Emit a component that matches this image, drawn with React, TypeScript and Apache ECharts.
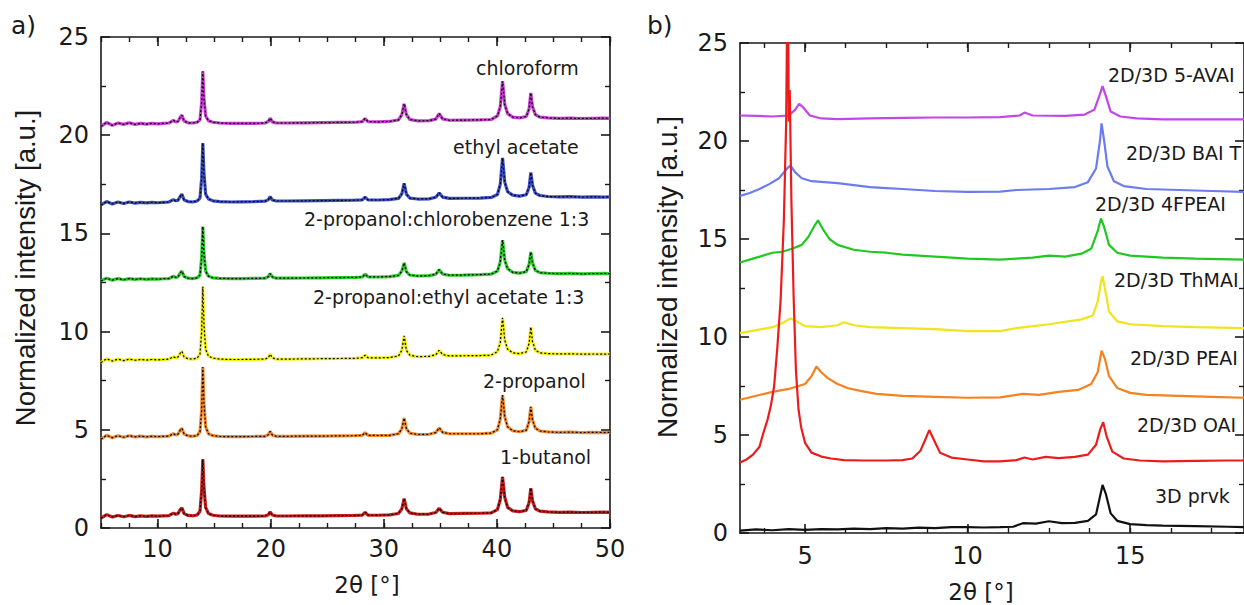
import React, { useEffect, useRef } from "react";
import * as echarts from "echarts";

// ---------- Panel a data (shared 2θ grid) ----------
const xA = [5, 5.5, 6, 6.5, 7, 7.5, 8, 8.5, 9, 9.5, 10, 10.5, 11, 11.4, 11.6, 11.8, 12.0, 12.15, 12.35, 12.7, 13.1, 13.5, 13.75, 13.9, 14.0, 14.1, 14.25, 14.5, 14.9, 15.5, 16.5, 17.5, 18.5, 19.5, 19.8, 19.95, 20.15, 20.5, 21.5, 23, 24.5, 26, 27.5, 28.1, 28.35, 28.6, 29.5, 30.5, 31.3, 31.6, 31.8, 32.0, 32.3, 33, 34, 34.6, 34.9, 35.2, 35.8, 37, 38.5, 39.5, 40.05, 40.3, 40.5, 40.7, 40.95, 41.4, 42.0, 42.6, 42.85, 43.0, 43.15, 43.4, 43.8, 44.5, 45.5, 46.5, 47.5, 48.5, 49.5, 50];

const chloroform = [20.45, 20.65, 20.5, 20.62, 20.55, 20.63, 20.55, 20.6, 20.56, 20.6, 20.58, 20.6, 20.62, 20.75, 20.68, 20.7, 20.9, 21.02, 20.72, 20.63, 20.62, 20.66, 20.78, 21.65, 23.25, 21.9, 20.98, 20.74, 20.66, 20.62, 20.6, 20.6, 20.6, 20.62, 20.7, 20.87, 20.68, 20.62, 20.62, 20.63, 20.64, 20.65, 20.66, 20.69, 20.85, 20.69, 20.68, 20.7, 20.78, 21.05, 21.6, 21.05, 20.8, 20.73, 20.74, 20.82, 21.1, 20.83, 20.76, 20.77, 20.78, 20.8, 20.98, 21.45, 22.75, 21.55, 21.1, 20.92, 20.88, 20.95, 21.35, 22.15, 21.45, 21.05, 20.92, 20.88, 20.86, 20.87, 20.85, 20.86, 20.87, 20.86];

const ethylAcetate = [16.45, 16.62, 16.5, 16.6, 16.52, 16.6, 16.54, 16.58, 16.55, 16.58, 16.56, 16.58, 16.6, 16.72, 16.66, 16.68, 16.88, 17.0, 16.7, 16.62, 16.6, 16.65, 16.8, 17.8, 19.6, 18.1, 17.0, 16.75, 16.66, 16.62, 16.6, 16.61, 16.62, 16.64, 16.72, 16.87, 16.7, 16.65, 16.65, 16.66, 16.67, 16.68, 16.69, 16.71, 16.84, 16.71, 16.7, 16.72, 16.78, 17.02, 17.55, 17.0, 16.8, 16.75, 16.76, 16.84, 17.06, 16.85, 16.78, 16.79, 16.8, 16.83, 16.98, 17.5, 18.84, 17.6, 17.12, 16.95, 16.9, 16.97, 17.35, 18.1, 17.45, 17.05, 16.93, 16.88, 16.86, 16.87, 16.85, 16.86, 16.85, 16.86];

const chlorobenzene13 = [12.58, 12.72, 12.62, 12.7, 12.64, 12.7, 12.66, 12.69, 12.66, 12.68, 12.67, 12.69, 12.7, 12.82, 12.76, 12.78, 12.98, 13.08, 12.8, 12.72, 12.7, 12.74, 12.88, 13.75, 15.35, 14.0, 13.08, 12.82, 12.74, 12.71, 12.7, 12.7, 12.71, 12.72, 12.8, 12.95, 12.78, 12.72, 12.72, 12.73, 12.74, 12.75, 12.76, 12.78, 12.92, 12.79, 12.78, 12.8, 12.86, 13.08, 13.5, 13.05, 12.88, 12.83, 12.85, 12.92, 13.15, 12.93, 12.87, 12.88, 12.9, 12.93, 13.08, 13.55, 14.66, 13.62, 13.2, 13.02, 12.98, 13.05, 13.42, 14.05, 13.5, 13.12, 13.0, 12.97, 12.95, 12.96, 12.94, 12.95, 12.96, 12.95];

const ethylAcetate13 = [8.42, 8.62, 8.5, 8.6, 8.52, 8.6, 8.54, 8.58, 8.55, 8.58, 8.56, 8.58, 8.6, 8.72, 8.66, 8.7, 8.9, 9.0, 8.7, 8.62, 8.6, 8.65, 8.85, 10.0, 12.3, 10.4, 9.1, 8.75, 8.65, 8.6, 8.58, 8.58, 8.59, 8.6, 8.68, 8.85, 8.66, 8.6, 8.6, 8.61, 8.62, 8.63, 8.64, 8.67, 8.8, 8.67, 8.66, 8.68, 8.76, 9.05, 9.78, 9.05, 8.8, 8.72, 8.74, 8.82, 9.05, 8.83, 8.76, 8.77, 8.78, 8.8, 8.98, 9.45, 10.7, 9.55, 9.1, 8.92, 8.88, 8.96, 9.4, 10.23, 9.5, 9.05, 8.92, 8.88, 8.86, 8.87, 8.85, 8.86, 8.85, 8.86];

const propanol2 = [4.52, 4.72, 4.6, 4.7, 4.62, 4.7, 4.64, 4.68, 4.64, 4.67, 4.65, 4.67, 4.68, 4.8, 4.74, 4.77, 4.98, 5.08, 4.78, 4.69, 4.67, 4.71, 4.9, 6.0, 8.2, 6.4, 5.15, 4.8, 4.7, 4.66, 4.65, 4.65, 4.66, 4.67, 4.75, 4.92, 4.73, 4.67, 4.67, 4.68, 4.68, 4.69, 4.7, 4.72, 4.85, 4.72, 4.71, 4.72, 4.8, 5.05, 5.6, 5.05, 4.83, 4.76, 4.77, 4.86, 5.1, 4.87, 4.8, 4.8, 4.8, 4.83, 5.0, 5.55, 6.77, 5.65, 5.15, 4.95, 4.9, 4.98, 5.42, 6.17, 5.5, 5.08, 4.94, 4.89, 4.87, 4.88, 4.86, 4.87, 4.86, 4.87];

const butanol1 = [0.5, 0.68, 0.56, 0.64, 0.57, 0.64, 0.58, 0.62, 0.59, 0.62, 0.6, 0.62, 0.63, 0.76, 0.7, 0.73, 0.93, 1.03, 0.73, 0.64, 0.62, 0.66, 0.85, 1.9, 3.5, 2.1, 1.05, 0.74, 0.65, 0.61, 0.6, 0.6, 0.6, 0.61, 0.68, 0.82, 0.66, 0.61, 0.61, 0.62, 0.62, 0.63, 0.64, 0.66, 0.8, 0.66, 0.65, 0.67, 0.74, 0.98, 1.5, 0.98, 0.77, 0.7, 0.71, 0.79, 1.0, 0.8, 0.73, 0.74, 0.75, 0.77, 0.94, 1.45, 2.6, 1.55, 1.05, 0.87, 0.83, 0.9, 1.3, 2.03, 1.38, 0.98, 0.86, 0.82, 0.8, 0.81, 0.79, 0.8, 0.81, 0.8];

const namesA = ["1-butanol", "2-propanol", "2-propanol:ethyl acetate 1:3", "2-propanol:chlorobenzene 1:3", "ethyl acetate", "chloroform"];
const colorsA = ["#c41e1e", "#f08a30", "#f2ee22", "#2cc82c", "#3c4ec4", "#c43ece"];

// ---------- Panel b data ----------
const prvk3D = [[3, 0.12], [3.5, 0.18], [4, 0.14], [4.5, 0.2], [5, 0.16], [5.5, 0.2], [6, 0.18], [6.5, 0.22], [7, 0.2], [7.5, 0.25], [8, 0.22], [8.5, 0.27], [9, 0.25], [9.5, 0.3], [10, 0.3], [10.5, 0.28], [11, 0.3], [11.4, 0.32], [11.7, 0.5], [12.1, 0.48], [12.5, 0.6], [12.9, 0.5], [13.3, 0.52], [13.7, 0.62], [13.95, 0.95], [14.05, 1.7], [14.15, 2.45], [14.25, 2.0], [14.4, 1.0], [14.6, 0.62], [15, 0.45], [15.5, 0.4], [16, 0.38], [17, 0.35], [18, 0.32], [18.5, 0.3]];

const oai = [[3, 3.6], [3.2, 3.75], [3.4, 4.0], [3.6, 4.4], [3.7, 5.0], [3.85, 5.8], [3.95, 6.5], [4.05, 7.5], [4.15, 9.5], [4.25, 11.9], [4.35, 16], [4.42, 21], [4.47, 30], [4.5, 21], [4.53, 22.6], [4.58, 17], [4.65, 12], [4.72, 8.3], [4.8, 6.3], [4.88, 5.4], [5.0, 4.6], [5.2, 4.1], [5.5, 3.9], [5.8, 3.8], [6.2, 3.72], [6.8, 3.7], [7.5, 3.7], [8, 3.72], [8.3, 3.8], [8.55, 4.2], [8.72, 4.85], [8.82, 5.25], [8.95, 4.8], [9.15, 4.1], [9.5, 3.85], [10, 3.75], [10.5, 3.65], [11, 3.65], [11.5, 3.72], [11.75, 3.85], [12, 3.75], [12.4, 3.88], [12.8, 3.82], [13.3, 3.88], [13.7, 4.0], [13.95, 4.5], [14.08, 5.3], [14.17, 5.65], [14.28, 4.9], [14.45, 4.15], [14.8, 3.8], [15.3, 3.7], [16, 3.65], [17, 3.68], [18, 3.7], [18.5, 3.7]];

const peai = [[3, 6.8], [3.5, 7.0], [4, 7.2], [4.5, 7.35], [5, 7.6], [5.2, 8.0], [5.35, 8.5], [5.5, 8.2], [5.7, 7.9], [6, 7.6], [6.3, 7.4], [6.7, 7.25], [7.2, 7.1], [8, 7.0], [9, 6.95], [10, 6.9], [11, 6.92], [11.7, 7.1], [12.2, 7.05], [12.8, 7.2], [13.4, 7.3], [13.8, 7.6], [14.0, 8.2], [14.12, 9.3], [14.22, 8.9], [14.35, 8.0], [14.6, 7.4], [15, 7.15], [15.5, 7.05], [16.5, 7.0], [17.5, 6.95], [18.5, 6.9]];

const thmai = [[3, 10.2], [3.5, 10.35], [4, 10.5], [4.3, 10.7], [4.55, 10.95], [4.75, 10.8], [5, 10.55], [5.5, 10.5], [6, 10.6], [6.2, 10.75], [6.5, 10.6], [7, 10.5], [8, 10.45], [9, 10.4], [10, 10.3], [11, 10.3], [11.5, 10.45], [12.5, 10.65], [13.5, 10.9], [13.85, 11.1], [14.0, 11.8], [14.1, 12.8], [14.15, 13.1], [14.22, 12.5], [14.35, 11.3], [14.6, 10.8], [15, 10.65], [16, 10.55], [17, 10.5], [18.5, 10.45]];

const fpeai4 = [[3, 13.8], [3.5, 14.05], [4, 14.3], [4.3, 14.35], [4.6, 14.5], [4.9, 14.7], [5.1, 15.1], [5.3, 15.7], [5.4, 15.95], [5.55, 15.5], [5.75, 15.0], [6, 14.7], [6.5, 14.45], [7, 14.35], [7.5, 14.3], [8, 14.2], [9, 14.1], [10, 14.0], [11, 13.95], [11.5, 14.0], [12, 14.05], [12.5, 14.15], [13, 14.1], [13.5, 14.25], [13.8, 14.5], [14.0, 15.4], [14.1, 16.05], [14.2, 15.6], [14.35, 14.7], [14.6, 14.3], [15, 14.15], [16, 14.05], [17, 14.0], [18.5, 13.95]];

const bai = [[3, 17.2], [3.3, 17.35], [3.6, 17.55], [3.9, 17.8], [4.2, 18.1], [4.45, 18.6], [4.55, 18.75], [4.7, 18.4], [4.9, 18.1], [5.2, 17.95], [5.6, 17.9], [6, 17.85], [6.5, 17.75], [7, 17.65], [7.5, 17.6], [8, 17.55], [9, 17.45], [10, 17.4], [11, 17.42], [11.5, 17.5], [12.5, 17.55], [13.3, 17.65], [13.7, 17.9], [13.95, 18.6], [14.07, 20.0], [14.12, 20.9], [14.2, 20.0], [14.3, 18.7], [14.5, 17.95], [14.8, 17.7], [15.5, 17.55], [16.5, 17.5], [17.5, 17.45], [18.5, 17.4]];

const avai5 = [[3, 21.3], [3.5, 21.28], [4, 21.25], [4.5, 21.3], [4.7, 21.6], [4.82, 21.9], [4.95, 21.7], [5.15, 21.3], [5.5, 21.15], [6, 21.12], [7, 21.15], [8, 21.18], [9, 21.2], [10, 21.2], [11, 21.22], [11.6, 21.3], [11.75, 21.45], [12, 21.3], [13, 21.28], [13.6, 21.35], [13.9, 21.6], [14.05, 22.3], [14.15, 22.8], [14.25, 22.3], [14.4, 21.5], [14.7, 21.25], [15.2, 21.15], [16, 21.1], [17, 21.1], [18.5, 21.1]];

const namesB = ["3D prvk", "2D/3D 5-AVAI", "2D/3D BAI T", "2D/3D 4FPEAI", "2D/3D ThMAI", "2D/3D PEAI", "2D/3D OAI"];
const colorsB = ["#111111", "#c246e8", "#6a7cee", "#22c822", "#f0e41c", "#f5821f", "#ec1c1c"];

// ---------- tick values ----------
const ticksAMajor = [10, 20, 30, 40, 50];
const ticksBMajor = [5, 10, 15];
const ticksBMinor = [3.75, 5, 6.25, 7.5, 8.75, 10, 11.25, 12.5, 13.75, 15, 16.25, 17.5];

const TXT = "DejaVu Sans";
const AXC = "#1a1a1a";

function pairs(xs: number[], ys: number[]) {
  return xs.map((x, i) => [x, ys[i]]);
}

function xAxes(gridIndex: number, min: number, max: number, major: number[], minorOpt: any, labelMargin: number) {
  const res: any[] = [];
  for (const pos of ["bottom", "top"]) {
    res.push({
      type: "value", gridIndex, position: pos, min, max,
      axisLine: { show: true, onZero: false, lineStyle: { color: AXC, width: 1.6 } },
      axisTick: { show: true, inside: true, length: 9, customValues: major, lineStyle: { color: AXC, width: 1.6 } },
      axisLabel: pos === "bottom"
        ? { show: true, customValues: major, fontSize: 24, fontFamily: TXT, color: AXC, margin: labelMargin }
        : { show: false },
      splitLine: { show: false },
    });
    res.push({
      type: "value", gridIndex, position: pos, min, max, ...minorOpt,
      axisLine: { show: false, onZero: false },
      axisTick: { show: true, inside: true, length: 5, lineStyle: { color: AXC, width: 1.4 }, ...(minorOpt.customValues ? { customValues: minorOpt.customValues } : {}) },
      axisLabel: { show: false },
      splitLine: { show: false },
    });
  }
  return res;
}

function yAxes(gridIndex: number) {
  return ["left", "right"].map((pos) => ({
    type: "value", gridIndex, position: pos, min: 0, max: 25, interval: 5,
    axisLine: { show: true, onZero: false, lineStyle: { color: AXC, width: 1.6 } },
    axisTick: { show: true, inside: true, length: 9, lineStyle: { color: AXC, width: 1.6 } },
    minorTick: { show: true, splitNumber: 2, length: 5, lineStyle: { color: AXC, width: 1.4 } },
    axisLabel: pos === "left"
      ? { show: true, fontSize: 24, fontFamily: TXT, color: AXC, margin: 12 }
      : { show: false },
    splitLine: { show: false },
    minorSplitLine: { show: false },
  }));
}

function txt(text: string, x: number, y: number, size: number, extra: any = {}) {
  return {
    type: "text", x, y, silent: true, ...extra,
    style: {
      text, fontSize: size, fontFamily: extra.fontFamily || TXT, fill: "#1a1a1a",
      align: extra.align || "left", verticalAlign: "middle",
      textAlign: extra.align || "left", textVerticalAlign: "middle",
    },
  };
}

export default function App() {
  const ref = useRef<HTMLDivElement>(null);
  useEffect(() => {
    if (!ref.current) return;
    const chart = echarts.init(ref.current, null, { renderer: "svg" });

    const seriesA = [butanol1, propanol2, ethylAcetate13, chlorobenzene13, ethylAcetate, chloroform];
    const series: any[] = [];
    seriesA.forEach((ys, i) => {
      const data = pairs(xA, ys);
      series.push({
        type: "line", name: namesA[i], xAxisIndex: 0, yAxisIndex: 0, data,
        symbol: "none", silent: true, lineStyle: { color: colorsA[i], width: 3.2 },
      });
      series.push({
        type: "line", name: namesA[i] + " fit", xAxisIndex: 0, yAxisIndex: 0, data,
        symbol: "none", silent: true, lineStyle: { color: "#000", width: 1.2, type: [2, 2] },
      });
    });
    const seriesB = [prvk3D, avai5, bai, fpeai4, thmai, peai, oai];
    seriesB.forEach((data, i) => {
      series.push({
        type: "line", name: namesB[i], xAxisIndex: 4, yAxisIndex: 2, data,
        symbol: "none", silent: true, clip: true, lineStyle: { color: colorsB[i], width: 2.2 },
      });
    });

    const option: any = {
      animation: false,
      backgroundColor: "#ffffff",
      grid: [
        { left: 101, top: 37, width: 509, height: 491 },
        { left: 740, top: 43, width: 511.5, height: 490 },
      ],
      xAxis: [
        ...xAxes(0, 5, 50, ticksAMajor, { interval: 2.5 }, 9),
        ...xAxes(1, 3, 18.5, ticksBMajor, { customValues: ticksBMinor }, 11),
      ],
      yAxis: [...yAxes(0), ...yAxes(1)],
      series,
      graphic: {
        elements: [
          txt("a)", 11, 25, 25),
          txt("b)", 647, 25, 25),
          txt("Normalized intensity [a.u.]", 25, 268, 27.5, { rotation: Math.PI / 2, align: "center", fontFamily: "Liberation Sans" }),
          txt("Normalized intensity [a.u.]", 667, 277, 28, { rotation: Math.PI / 2, align: "center", fontFamily: "Liberation Sans" }),
          txt("2θ [°]", 367, 585, 23, { align: "center" }),
          txt("2θ [°]", 981, 592, 23, { align: "center" }),
          txt("chloroform", 476, 68, 19),
          txt("ethyl acetate", 453, 147, 19),
          txt("2-propanol:chlorobenzene 1:3", 304, 219, 19),
          txt("2-propanol:ethyl acetate 1:3", 313, 297, 19),
          txt("2-propanol", 483, 381, 19),
          txt("1-butanol", 500, 457, 19),
          txt("2D/3D 5-AVAI", 1108, 75, 19),
          txt("2D/3D BAI T", 1126, 153, 19),
          txt("2D/3D 4FPEAI", 1095, 204, 19),
          txt("2D/3D ThMAI", 1114, 280, 19),
          txt("2D/3D PEAI", 1130, 358, 19),
          txt("2D/3D OAI", 1137, 425, 19),
          txt("3D prvk", 1155, 496, 19),
        ],
      },
    };
    chart.setOption(option);
    return () => chart.dispose();
  }, []);
  return (
    <div
      ref={ref}
      style={{ position: "absolute", left: 0, top: 0, width: 1244, height: 605, background: "#fff", overflow: "hidden" }}
    />
  );
}
